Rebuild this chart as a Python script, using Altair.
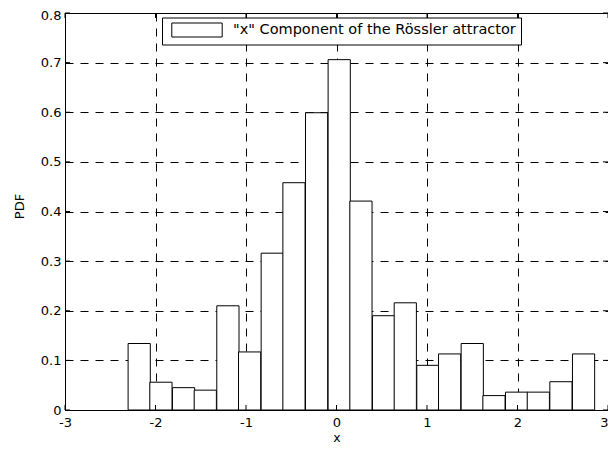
import altair as alt
import pandas as pd

# Values
bin_centers = [-2.18, -1.94, -1.69, -1.45, -1.20, -0.96, -0.71, -0.47, -0.22, 0.03,
               0.27, 0.52, 0.76, 1.01, 1.25, 1.50, 1.74, 1.99, 2.23, 2.48, 2.73]
pdf_values = [0.134, 0.056, 0.045, 0.040, 0.210, 0.117, 0.316, 0.458, 0.599, 0.706,
              0.421, 0.190, 0.216, 0.090, 0.113, 0.134, 0.029, 0.036, 0.036, 0.057, 0.113]
bin_width = 0.2454
x_ticks = [-3, -2, -1, 0, 1, 2, 3]
y_ticks = [0, 0.1, 0.2, 0.3, 0.4, 0.5, 0.6, 0.7, 0.8]
series_name = '"x" Component of the Rössler attractor'

df = pd.DataFrame({"center": bin_centers, "pdf": pdf_values, "series": series_name})

W, H = 543, 397
FONT = "DejaVu Sans"

xs = alt.Scale(domain=[-3, 3], nice=False, zero=False)
ys = alt.Scale(domain=[0, 0.8], nice=False, zero=False)

grid_style = dict(grid=True, gridColor="black", gridDash=[8, 7], gridWidth=1, gridOpacity=1)
x_axis = alt.Axis(values=x_ticks, title="x", labelExpr="'' + datum.value",
                  labelFlush=False,
                  labelAlign={"condition": {"test": "datum.value == 3", "value": "right"},
                              "value": "center"},
                  labelPadding=6, titlePadding=2, titleFontSize=12.5, **grid_style)
y_axis = alt.Axis(values=y_ticks, format="~g", title="PDF", labelFlush=False,
                  labelOffset={"condition": {"test": "datum.value == 0.8", "value": 2},
                               "value": 0},
                  labelPadding=4, titlePadding=14, titleY=193, **grid_style)

bars = alt.Chart(df).transform_calculate(
    x0=f"datum.center - {bin_width} / 2",
    x1=f"datum.center + {bin_width} / 2",
    base="0",
).mark_rect(stroke="black", strokeWidth=1, opacity=1).encode(
    x=alt.X("x0:Q", scale=xs, axis=x_axis),
    x2="x1:Q",
    y=alt.Y("pdf:Q", scale=ys, axis=y_axis),
    y2="base:Q",
    color=alt.Color("series:N", scale=alt.Scale(range=["white"]),
                    legend=alt.Legend(title=None)),
)

xt_df = pd.DataFrame({"x0": x_ticks})
yt_df = pd.DataFrame({"pdf": y_ticks})

x_ticks_bottom = alt.Chart(xt_df).mark_rule(color="black", strokeWidth=1).encode(
    x=alt.X("x0:Q", scale=xs, axis=x_axis), y=alt.value(H), y2=alt.value(H - 5))
x_ticks_top = alt.Chart(xt_df).mark_rule(color="black", strokeWidth=1).encode(
    x=alt.X("x0:Q", scale=xs, axis=x_axis), y=alt.value(0), y2=alt.value(5))
y_ticks_left = alt.Chart(yt_df).mark_rule(color="black", strokeWidth=1).encode(
    y=alt.Y("pdf:Q", scale=ys, axis=y_axis), x=alt.value(0), x2=alt.value(5))
y_ticks_right = alt.Chart(yt_df).mark_rule(color="black", strokeWidth=1).encode(
    y=alt.Y("pdf:Q", scale=ys, axis=y_axis), x=alt.value(W), x2=alt.value(W - 5))

chart = alt.layer(bars, x_ticks_bottom, x_ticks_top, y_ticks_left, y_ticks_right).properties(
    width=W, height=H,
    padding={"left": 57, "top": 5, "right": 0, "bottom": 32},
    autosize=alt.AutoSizeParams(type="none"),
    background="white",
).configure_view(
    stroke="black", strokeWidth=1
).configure_axis(
    domain=False, ticks=False,
    labelFont=FONT, labelFontSize=13, labelColor="black",
    titleFont=FONT, titleFontSize=13, titleFontWeight="normal", titleColor="black",
).configure_legend(
    orient="none", legendX=97, legendY=4.5, padding=5,
    strokeColor="black", fillColor="white", strokeWidth=1, cornerRadius=0,
    labelFont=FONT, labelFontSize=14.5, labelColor="black", labelLimit=0,
    symbolType="M-3.6,-1L3.6,-1L3.6,1L-3.6,1Z", symbolSize=196,
    symbolStrokeColor="black", symbolStrokeWidth=1, symbolFillColor="white",
    symbolOffset=22.5, labelOffset=28.5,
)

chart.save("out.html", embed_options={"renderer": "svg", "actions": False})
